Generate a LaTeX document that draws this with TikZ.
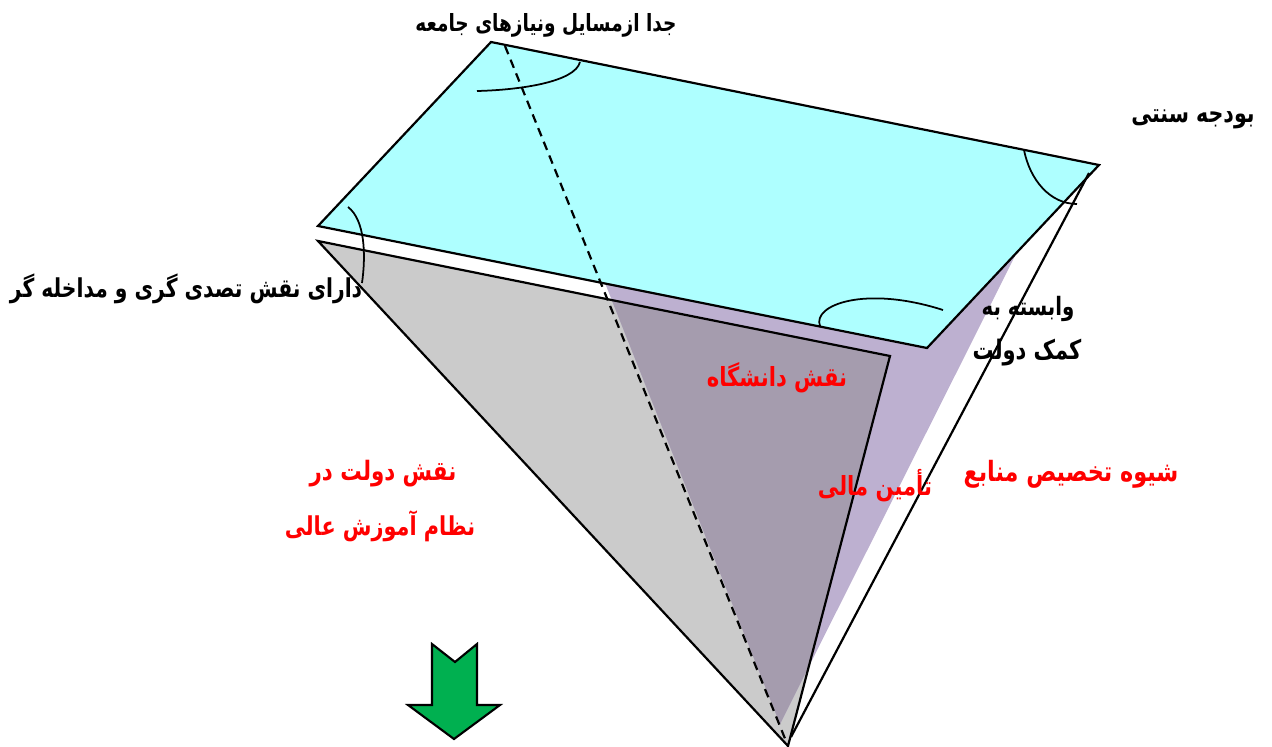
\documentclass[tikz,border=0pt]{standalone}
\usepackage{xcolor}
\usepackage{fontspec}
\newfontfamily\blackfont[Script=Arabic,FakeStretch=0.78]{DejaVu Sans}
\newfontfamily\redfont[Script=Arabic,FakeStretch=0.8]{DejaVu Sans}
\TeXXeTstate=1
\definecolor{PlaneCyan}{HTML}{AEFFFF}
\definecolor{ConeGray}{HTML}{CBCBCB}
\definecolor{SidePurple}{HTML}{BDB0D0}
\definecolor{OverlapGray}{HTML}{A59CAE}
\definecolor{ArrowGreen}{HTML}{00B050}
\tikzset{
  edgeline/.style={black,line width=1.25pt},
  arcline/.style={black,line width=1pt},
  blacklabel/.style={inner sep=0pt,text=black,font=\blackfont\bfseries\fontsize{#1}{16pt}\selectfont},
  redlabel/.style={inner sep=0pt,text=red,font=\redfont\bfseries\fontsize{#1}{18pt}\selectfont}
}

\begin{document}
\begin{tikzpicture}[x=0.02cm,y=-0.02cm]
\path[use as bounding box] (0,0) rectangle (1272,747);
\coordinate (planeA) at (491,42);
\coordinate (planeB) at (1099,165);
\coordinate (planeC) at (927,348);
\coordinate (planeD) at (318,226);
\coordinate (coneL) at (318,241);
\coordinate (coneR) at (890,356);
\coordinate (coneT) at (788,746);
\coordinate (sideL) at (605,283);
\coordinate (sideR) at (1017,252);
\coordinate (sideT) at (780,724);
\coordinate (dashS) at (505,46);
\coordinate (backS) at (1089,173);
\coordinate (backE) at (791,737);
\fill[ConeGray] (coneL) -- (coneR) -- (coneT) -- cycle;
\fill[SidePurple] (sideL) -- (planeC) -- (sideR) -- (sideT) -- cycle;
\begin{scope}
\clip (coneL) -- (coneR) -- (coneT) -- cycle;
\fill[OverlapGray] (sideL) -- (planeC) -- (sideR) -- (sideT) -- cycle;
\end{scope}
\draw[edgeline,fill=PlaneCyan] (planeA) -- (planeB) -- (planeC) -- (planeD) -- cycle;
\draw[edgeline] (coneL) -- (coneR) -- (coneT) -- cycle;
\draw[edgeline] (backS) -- (backE);
\draw[edgeline,dash pattern=on 5pt off 3.4pt] (dashS) -- (coneT);
\draw[arcline] (477,91) .. controls (520,90) and (575,82) .. (580,62);
\draw[arcline] (1024,150) .. controls (1030,180) and (1050,204) .. (1077,204);
\draw[arcline] (820,326) .. controls (812,305) and (865,285) .. (943,310);
\draw[arcline] (348,207) .. controls (365,220) and (366,255) .. (362,283);
\draw[black,line width=1.2pt,fill=ArrowGreen] (432,644) -- (455,662) -- (477,644) -- (477,705) -- (500,705) -- (454,739) -- (408,705) -- (432,705) -- cycle;
\node[blacklabel=13.5pt] (needs) at (546,25) {\beginR جدا ازمسایل ونیازهای جامعه\endR};
\node[blacklabel=15pt,anchor=east] (budget) at (1255,119) {\beginR بودجه سنتی\endR};
\node[blacklabel=14.8pt] (control) at (186,289) {\beginR دارای نقش تصدی گری و مداخله گر\endR};
\node[blacklabel=14.4pt] (depends) at (1028,309) {\beginR وابسته به\endR};
\node[blacklabel=15.3pt] (aid) at (1027,353) {\beginR کمک دولت\endR};
\node[redlabel=15pt] (univ) at (777,378) {\beginR نقش دانشگاه\endR};
\node[redlabel=15.2pt] (govA) at (383,474) {\beginR نقش دولت در\endR};
\node[redlabel=14.8pt] (govB) at (380,526) {\beginR نظام آموزش عالی\endR};
\node[redlabel=15pt] (funding) at (875,486) {\beginR تأمین مالی\endR};
\node[redlabel=15.9pt] (alloc) at (1071,474) {\beginR شیوه تخصیص منابع\endR};
\end{tikzpicture}
\end{document}
